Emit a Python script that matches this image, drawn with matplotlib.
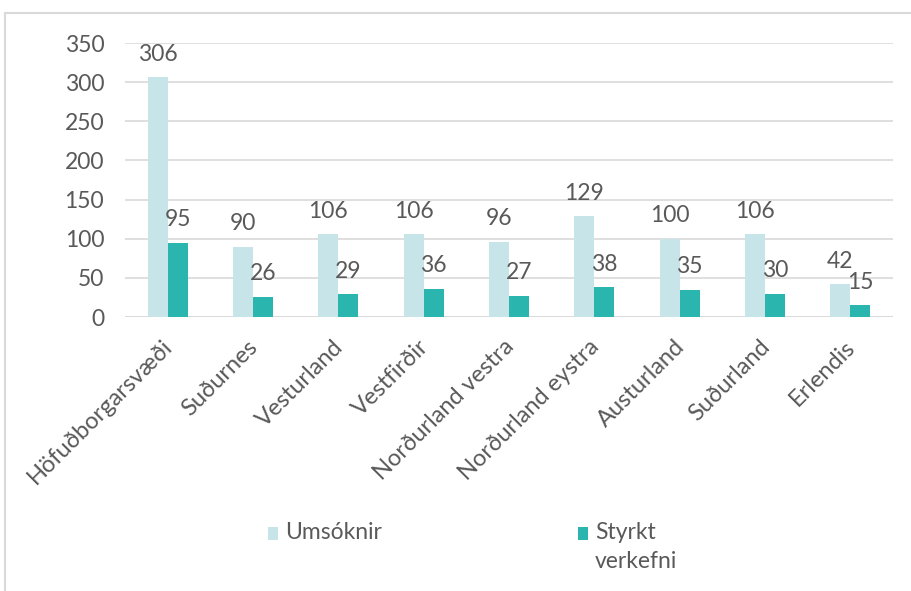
import matplotlib
matplotlib.use("Agg")
import matplotlib.pyplot as plt
import matplotlib.transforms as mtransforms
import numpy as np
from matplotlib.patches import Rectangle

categories = ["Höfuðborgarsvæði", "Suðurnes", "Vesturland", "Vestfirðir",
              "Norðurland vestra", "Norðurland eystra", "Austurland", "Suðurland", "Erlendis"]
umsoknir = [306, 90, 106, 106, 96, 129, 100, 106, 42]
styrkt = [95, 26, 29, 36, 27, 38, 35, 30, 15]
series_names = ["Umsóknir", "Styrkt\nverkefni"]
yticks = [0, 50, 100, 150, 200, 250, 300, 350]

plt.rcParams['font.family'] = ['Lato', 'DejaVu Sans']
txt = '#595959'
c_light = '#C7E5E9'
c_dark = '#2AB5AE'
fs = 16.5

fig = plt.figure(figsize=(9.11, 5.91), dpi=100)
W, H = 911, 591
ax = fig.add_axes([125/W, 1-317/H, 768/W, 274/H])

x = np.arange(len(categories))
bw = 0.235
b1 = ax.bar(x - bw/2, umsoknir, bw, color=c_light, zorder=2)
b2 = ax.bar(x + bw/2, styrkt, bw, color=c_dark, zorder=2)
for bars, vals in ((b1, umsoknir), (b2, styrkt)):
    for r, v in zip(bars, vals):
        ax.annotate(str(v), (r.get_x() + r.get_width()/2, v), xytext=(0, 9),
                    textcoords='offset points', ha='center', va='bottom',
                    fontsize=fs, color=txt)

ax.set_xlim(-0.5, len(categories) - 0.5)
ax.set_ylim(0, 350)
ax.set_yticks(yticks)
ax.yaxis.grid(True, color='#D9D9D9', linewidth=1.2, zorder=0)
ax.set_axisbelow(True)
for s in ax.spines.values():
    s.set_visible(False)
ax.axhline(0, color='#D9D9D9', linewidth=1.2, zorder=1)
ax.tick_params(axis='both', length=0, labelsize=fs, labelcolor=txt)
ax.tick_params(axis='y', pad=15)
ax.set_xticks(x)
ax.set_xticklabels(categories, rotation=45, ha='right', va='top', rotation_mode='anchor',
                   fontsize=17)
ax.tick_params(axis='x', pad=8)
shift = mtransforms.ScaledTranslation(-6/100, -8/100, fig.dpi_scale_trans)
for lab in ax.get_xticklabels():
    lab.set_transform(lab.get_transform() + shift)

# legend (drawn manually to match top-aligned multi-line entries)
leg_x = [268, 578]
leg_colors = [c_light, c_dark]
for lx, col, name in zip(leg_x, leg_colors, series_names):
    fig.add_artist(Rectangle((lx/W, 1-540/H), 10/W, 13/H, transform=fig.transFigure,
                             facecolor=col, edgecolor='none'))
    fig.text((lx+17)/W, 1-522/H, name, ha='left', va='top', fontsize=fs, color=txt,
             linespacing=1.5)

# figure frame
fig.add_artist(Rectangle((5/W, -0.01), 1.0, 1 - 13/H + 0.01, transform=fig.transFigure,
                         fill=False, edgecolor='#D9D9D9', linewidth=1.5))

fig.savefig("out.png", dpi=100)
